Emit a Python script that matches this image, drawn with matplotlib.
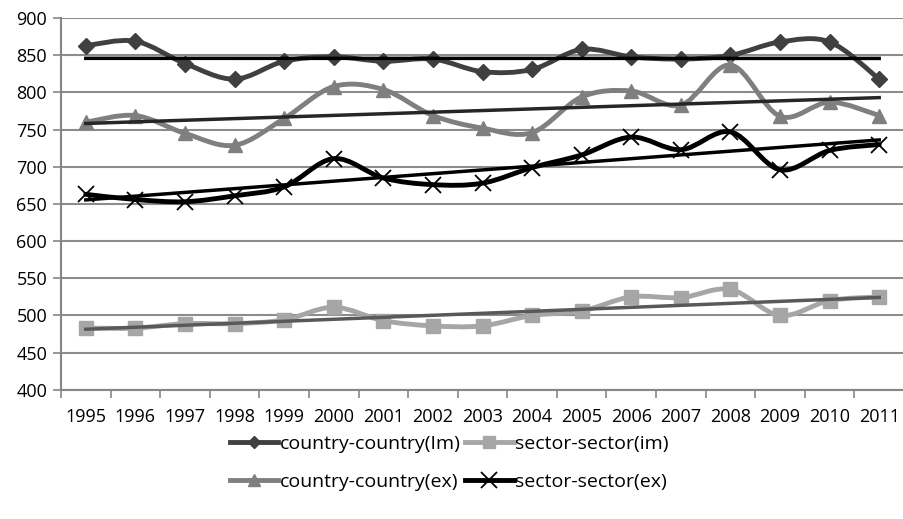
import numpy as np
import matplotlib
matplotlib.use("Agg")
import matplotlib.pyplot as plt
from matplotlib.path import Path
from matplotlib.patches import PathPatch
from matplotlib.lines import Line2D

years = [str(y) for y in range(1995, 2012)]

cc_im = [863, 869, 839, 818, 842, 848, 842, 845, 828, 831, 858, 848, 845, 850, 868, 868, 818]
ss_im = [483, 483, 489, 489, 494, 511, 493, 486, 486, 500, 506, 525, 524, 535, 500, 520, 525]
cc_ex = [760, 769, 745, 729, 765, 808, 804, 769, 752, 746, 794, 802, 783, 837, 768, 787, 769]
ss_ex = [663, 656, 653, 661, 673, 711, 685, 676, 678, 699, 716, 740, 723, 747, 696, 722, 730]

plt.rcParams['font.family'] = ['Open Sans', 'DejaVu Sans']

fig = plt.figure(figsize=(9.04, 5.19), dpi=100)
ax = fig.add_axes([0.0675, 0.249, 0.9325, 0.716])

x = np.arange(len(years))


def smooth(ax, xs, ys, color, lw):
    # excel-like smoothed line: cubic bezier through every point
    xs = np.asarray(xs, float)
    ys = np.asarray(ys, float)
    n = len(xs)
    verts = [(xs[0], ys[0])]
    codes = [Path.MOVETO]
    for i in range(n - 1):
        p0 = (xs[max(i - 1, 0)], ys[max(i - 1, 0)])
        p1 = (xs[i], ys[i])
        p2 = (xs[i + 1], ys[i + 1])
        p3 = (xs[min(i + 2, n - 1)], ys[min(i + 2, n - 1)])
        c1 = (p1[0] + (p2[0] - p0[0]) / 6, p1[1] + (p2[1] - p0[1]) / 6)
        c2 = (p2[0] - (p3[0] - p1[0]) / 6, p2[1] - (p3[1] - p1[1]) / 6)
        verts += [c1, c2, p2]
        codes += [Path.CURVE4] * 3
    ax.add_patch(PathPatch(Path(verts, codes), facecolor='none',
                           edgecolor=color, lw=lw, capstyle='round', joinstyle='round', zorder=3))


series = [
    (cc_im, '#404040', 'D', 8, 'country-country(Im)', '#000000'),
    (cc_ex, '#7f7f7f', '^', 10, 'country-country(ex)', '#262626'),
    (ss_im, '#a6a6a6', 's', 10, 'sector-sector(im)', '#595959'),
    (ss_ex, '#000000', 'x', 11, 'sector-sector(ex)', '#000000'),
]

handles = []
for ys, col, mk, ms, lab, tcol in series:
    smooth(ax, x, ys, col, 3.5)
    if mk == 'x':
        ax.plot(x, ys, ls='none', marker=mk, ms=ms, mec=col, mew=1.3, zorder=4)
    else:
        ax.plot(x, ys, ls='none', marker=mk, ms=ms, mfc=col, mec=col, zorder=4)
    k, b = np.polyfit(x, ys, 1)
    ax.plot(x, k * x + b, color=tcol, lw=2.5, zorder=5)
    if mk == 'x':
        h = Line2D([], [], color=col, lw=3.5, marker=mk, ms=ms, mec=col, mew=1.3)
    else:
        h = Line2D([], [], color=col, lw=3.5, marker=mk, ms=ms - 2, mfc=col, mec=col)
    handles.append((h, lab))

ax.set_xlim(-0.5, len(years) - 0.5)
ax.set_ylim(400, 900)
ax.set_yticks(np.arange(400, 901, 50))
ax.set_xticks(x)
ax.set_xticklabels(years)
ax.set_xticks(np.arange(-0.5, len(years), 1), minor=True)
ax.tick_params(axis='x', which='major', length=0, labelsize=13, pad=13)
ax.tick_params(axis='x', which='minor', length=6, width=1.2, color='#868686', direction='out')
ax.tick_params(axis='y', length=6, width=1.2, color='#868686', labelsize=13, pad=4)
ax.grid(axis='y', color='#8c8c8c', lw=1.5, zorder=0)
ax.set_axisbelow(True)
for s in ['top', 'right']:
    ax.spines[s].set_visible(False)
for s in ['left', 'bottom']:
    ax.spines[s].set_color('#868686')
    ax.spines[s].set_linewidth(1.5)

fig.legend([h for h, _ in handles], [l for _, l in handles], ncol=2,
           loc='center', bbox_to_anchor=(0.497, 0.108), frameon=False,
           fontsize=14, handlelength=2.5, handletextpad=0.1,
           columnspacing=0.2, labelspacing=1.0)

fig.savefig('out.png', dpi=100)
